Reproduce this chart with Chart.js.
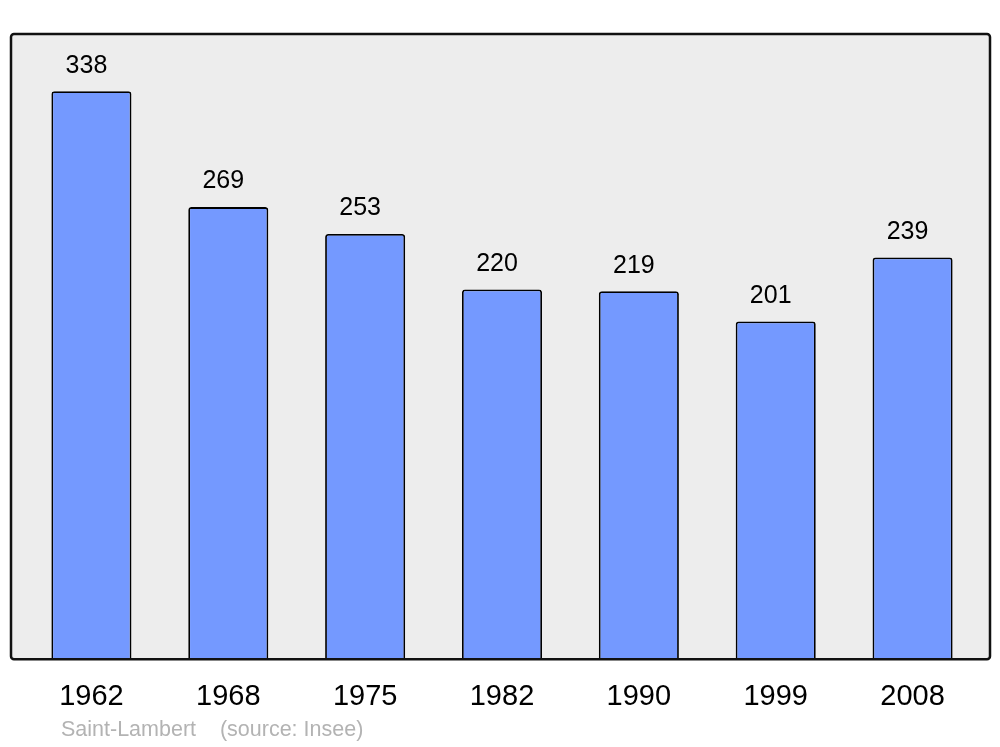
<!DOCTYPE html>
<html>
<head>
<meta charset="utf-8">
<script src="https://cdn.jsdelivr.net/npm/chart.js@4"></script>
<style>
html,body{margin:0;padding:0;background:#fff;}
#wrap{width:1000px;height:747px;position:relative;}
</style>
</head>
<body>
<div id="wrap"><canvas id="c" width="1000" height="747"></canvas></div>
<script>
const categories = ["1962", "1968", "1975", "1982", "1990", "1999", "2008"];
const population = [338, 269, 253, 220, 219, 201, 239];
const yMax = 372;
const footerText = "Saint-Lambert    (source: Insee)";

const boxPlugin = {
  id: 'box',
  beforeDraw(chart) {
    const {ctx, chartArea: a} = chart;
    const x0 = a.left - 12, x1 = a.right + 9, y0 = a.top, y1 = a.bottom;
    ctx.save();
    ctx.beginPath();
    ctx.roundRect(x0, y0, x1 - x0, y1 - y0, 3);
    ctx.fillStyle = '#ededed';
    ctx.fill();
    ctx.restore();
  },
  afterDatasetsDraw(chart) {
    const {ctx, chartArea: a} = chart;
    const x0 = a.left - 12, x1 = a.right + 9, y0 = a.top, y1 = a.bottom;
    ctx.save();
    ctx.beginPath();
    ctx.roundRect(x0, y0, x1 - x0, y1 - y0, 3);
    ctx.lineWidth = 2.5;
    ctx.strokeStyle = '#111';
    ctx.stroke();
    // value labels
    const meta = chart.getDatasetMeta(0);
    ctx.fillStyle = '#000';
    ctx.font = '25px "Liberation Sans", Arial, sans-serif';
    ctx.textAlign = 'center';
    ctx.textBaseline = 'middle';
    meta.data.forEach((bar, i) => {
      ctx.fillText(String(chart.data.datasets[0].data[i]), bar.x - 5, bar.y - 25.5);
    });
    // footer
    ctx.fillStyle = '#b3b3b3';
    ctx.font = '21.5px "Liberation Sans", Arial, sans-serif';
    ctx.textAlign = 'left';
    ctx.fillText(footerText, 61, 730);
    ctx.restore();
  }
};

new Chart(document.getElementById('c'), {
  type: 'bar',
  data: {
    labels: categories,
    datasets: [{
      data: population,
      backgroundColor: '#7499ff',
      borderColor: '#000',
      borderWidth: 1.8,
      borderRadius: 3,
      borderSkipped: 'start',
      barPercentage: 0.585,
      categoryPercentage: 1.0
    }]
  },
  options: {
    responsive: false,
    animation: false,
    devicePixelRatio: 1,
    layout: {padding: {left: 23, right: 19, top: 34, bottom: 13}},
    plugins: {legend: {display: false}, tooltip: {enabled: false}, title: {display: false}},
    scales: {
      x: {
        grid: {display: false, drawTicks: false},
        border: {display: false},
        ticks: {
          color: '#000',
          padding: 20,
          font: {family: '"Liberation Sans", Arial, sans-serif', size: 29}
        }
      },
      y: {
        display: false,
        min: 0,
        max: yMax
      }
    }
  },
  plugins: [boxPlugin]
});
</script>
</body>
</html>
